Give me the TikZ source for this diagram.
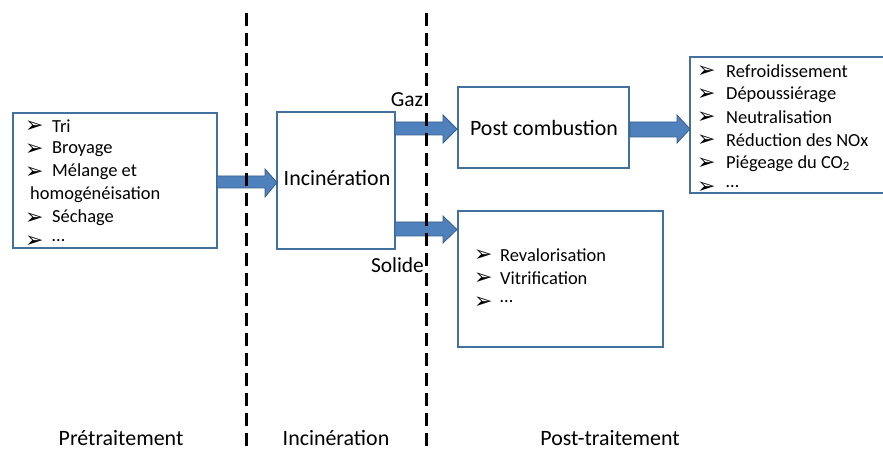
\documentclass[tikz,border=0pt]{standalone}
\usepackage{fontspec}
\setmainfont{Carlito}
\usetikzlibrary{arrows.meta}
\definecolor{boxblue}{HTML}{41719C}
\definecolor{arrfill}{HTML}{4F81BD}
\definecolor{arrdraw}{HTML}{385D8A}
\newfontfamily\symfont{DejaVu Sans}
\newcommand{\bul}{{\symfont\fontsize{22}{22}\selectfont ➢}}
\begin{document}
\begin{tikzpicture}[x=1bp,y=-1bp,
  boxst/.style={draw=boxblue,line width=1.6bp,fill=white},
  txt/.style={font=\fontsize{18.5}{22}\selectfont,anchor=west,inner sep=0},
  big/.style={font=\fontsize{22}{26}\selectfont,inner sep=0},
  lab/.style={font=\fontsize{21.5}{26}\selectfont,inner sep=0},
  bulst/.style={anchor=west,inner sep=0},
  fatarrow/.style={fill=arrfill,draw=arrdraw,line width=0.8bp},
  sep/.style={line width=2.6bp,dash pattern=on 13bp off 7bp}]
\useasboundingbox (0,0) rectangle (883,449);
\fill[white] (0,0) rectangle (883,449);
% boxes
\draw[boxst] (13,113) rectangle (217,248);
\draw[boxst] (277,112) rectangle (395,249);
\node[big] (inc) at (337,178) {Incinération};
\draw[boxst] (458,87) rectangle (629,168);
\node[big] (pc) at (544,128) {Post combustion};
\draw[boxst] (690,57) rectangle (890,193);
\draw[boxst] (458,211) rectangle (663,347);
% left list
\begin{scope}
\clip (14,114) rectangle (216,247);
\node[bulst] (b1) at (25,126.5) {\bul};
\node[txt] (t1) at (52,126) {Tri};
\node[bulst] (b2) at (25,149.5) {\bul};
\node[txt] (t2) at (52,149) {Broyage};
\node[bulst] (b3) at (25,172.5) {\bul};
\node[txt] (t3) at (52,172) {Mélange et};
\node[txt] (t3b) at (30,195) {homogénéisation};
\node[bulst] (b4) at (25,218.5) {\bul};
\node[txt] (t4) at (52,218) {Séchage};
\node[bulst] (b5) at (25,241.5) {\bul};
\node[txt] (t5) at (52,241) {…};
\end{scope}
% right list
\begin{scope}
\clip (691,58) rectangle (883,192);
\node[bulst] (r1) at (697,71.5) {\bul};
\node[txt] (s1) at (726,71) {Refroidissement};
\node[bulst] (r2) at (697,95) {\bul};
\node[txt] (s2) at (726,94.5) {Dépoussiérage};
\node[bulst] (r3) at (697,118) {\bul};
\node[txt] (s3) at (726,117.5) {Neutralisation};
\node[bulst] (r4) at (697,141) {\bul};
\node[txt] (s4) at (726,140.5) {Réduction des NOx};
\node[bulst] (r5) at (697,164) {\bul};
\node[txt] (s5) at (726,163.5) {Piégeage du CO\textsubscript{2}};
\node[bulst] (r6) at (697,187.5) {\bul};
\node[txt] (s6) at (726,187) {…};
\end{scope}
% bottom list
\node[bulst] (v1) at (474,255.5) {\bul};
\node[txt] (w1) at (500,255) {Revalorisation};
\node[bulst] (v2) at (474,278.5) {\bul};
\node[txt] (w2) at (500,278) {Vitrification};
\node[bulst] (v3) at (474,302.5) {\bul};
\node[txt] (w3) at (500,302) {…};
% arrows
\draw[fatarrow] (217,176) -- (265,176) -- (265,169) -- (277,182.5) -- (265,197) -- (265,188) -- (217,188) -- cycle;
\draw[fatarrow] (395,122) -- (443,122) -- (443,115) -- (457,129) -- (443,143) -- (443,135) -- (395,135) -- cycle;
\draw[fatarrow] (395,222) -- (443,222) -- (443,216) -- (457,229.5) -- (443,243) -- (443,236) -- (395,236) -- cycle;
\draw[fatarrow] (630,122) -- (677,122) -- (677,115) -- (690,129) -- (677,143) -- (677,137) -- (630,137) -- cycle;
% labels
\node[lab] (gaz) at (407,100) {Gaz};
\node[lab] (sol) at (397.5,265) {Solide};
% separators
\draw[sep] (246.7,13) -- (246.7,449);
\draw[sep] (426.7,13) -- (426.7,449);
% phase labels
\node[big,anchor=base] (p1) at (121,445) {Prétraitement};
\node[big,anchor=base] (p2) at (336,445) {Incinération};
\node[big,anchor=base] (p3) at (610,445) {Post-traitement};
\end{tikzpicture}
\end{document}
